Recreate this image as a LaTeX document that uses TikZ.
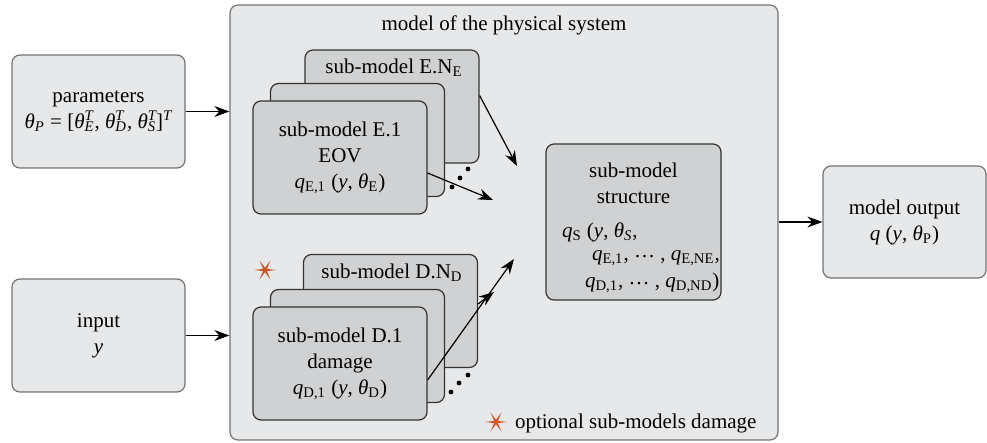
\documentclass[tikz,border=0pt]{standalone}
\usepackage{fontspec}
\setmainfont{Liberation Serif}
\usetikzlibrary{arrows.meta,shapes.geometric}
\definecolor{boxgray}{RGB}{231,232,233}
\definecolor{subgray}{RGB}{208,209,210}
\definecolor{edgegray}{RGB}{115,115,115}
\definecolor{staror}{RGB}{206,86,36}
\newcommand{\thsub}[1]{\textit{θ}\textsubscript{#1}}
\newcommand{\thsubsup}[2]{\textit{θ}\rlap{\textsuperscript{\itshape #2}}\textsubscript{\itshape #1}}
\begin{document}
\begin{tikzpicture}[x=0.5pt,y=-0.5pt,
    font=\fontsize{10.5}{13}\selectfont,
    outer/.style={draw=edgegray,fill=boxgray,rounded corners=4pt,line width=0.6pt,inner sep=0pt},
    submodel/.style={draw=black!80,fill=subgray,rounded corners=4pt,line width=0.6pt,
        minimum width=87pt,minimum height=56.5pt,inner sep=0pt},
    flow/.style={-{Stealth[length=7.5pt,width=5.5pt]},line width=0.6pt},
    dot/.style={circle,fill=black,inner sep=0pt,minimum size=2.4pt},
    optmark/.style={star,star points=6,star point ratio=5,fill=staror,inner sep=0pt,
        minimum size=11pt,rotate=90}]
    \useasboundingbox (0,0) rectangle (987,443);
    % outer boxes
    \node[outer,minimum width=86.5pt,minimum height=56.5pt,align=center] (params) at (98.5,111.5)
        {parameters\\ \thsub{\itshape P} = [\thsubsup{E}{T}, \thsubsup{D}{T}, \thsubsup{S}{T}]\textsuperscript{\itshape T}};
    \node[outer,minimum width=86.5pt,minimum height=56.5pt,align=center] (input) at (98.5,335.5)
        {input\\ \textit{y}};
    \node[outer,minimum width=274pt,minimum height=217.5pt] (model) at (504,222.5) {};
    \node (title) at (504,25) {model of the physical system};
    \node[outer,minimum width=81.5pt,minimum height=56pt,align=center] (output) at (904.5,222)
        {model output\\ \textit{q} (\textit{y}, \thsub{P})};

    % environmental sub-models
    \node[submodel] (eN) at (392,106.5) {};
    \node[submodel] (eMid) at (357.5,140) {};
    \node[submodel,align=center] (eOne) at (340,157.5)
        {sub-model E.1\\ EOV\\ \textit{q}\textsubscript{E,1} (\textit{y}, \thsub{E})};
    \node (eNtxt) at (394,68) {sub-model E.N\textsubscript{E}};
    \foreach \dx/\dy [count=\i] in {468/169,460/178,452/187}
        \node[dot] (edot\i) at (\dx,\dy) {};

    % damage sub-models
    \node[submodel] (dN) at (390.5,311) {};
    \node[submodel] (dMid) at (357.5,346) {};
    \node[submodel,align=center] (dOne) at (340,363.5)
        {sub-model D.1\\ damage\\ \textit{q}\textsubscript{D,1} (\textit{y}, \thsub{D})};
    \node (dNtxt) at (392,273) {sub-model D.N\textsubscript{D}};
    \foreach \dx/\dy [count=\i] in {468/375,459/383,451/392}
        \node[dot] (ddot\i) at (\dx,\dy) {};
    \node[optmark] (dmark) at (265,270) {};

    % structure
    \node[submodel,minimum width=87.5pt,minimum height=78pt] (struct) at (633.5,222) {};
    \node[align=center] (structhead) at (633.5,183.5) {sub-model\\ structure};
    \node[anchor=west] (structa) at (555,232) {\textit{q}\textsubscript{S} (\textit{y}, \thsub{\itshape S},};
    \node[anchor=west] (structb) at (585,258)
        {\textit{q}\textsubscript{E,1}, \raisebox{0.3ex}{…} , \textit{q}\textsubscript{E,NE},};
    \node[anchor=west] (structc) at (578,283)
        {\textit{q}\textsubscript{D,1}, \raisebox{0.3ex}{…} , \textit{q}\textsubscript{D,ND})};

    % legend
    \node[optmark] (legmark) at (496,422) {};
    \node[anchor=west] (legtxt) at (508,423) {optional sub-models damage};

    % connectors
    \coordinate (eNend) at (517,166);
    \coordinate (eOneend) at (493,200);
    \coordinate (dOneend) at (514,259);
    \coordinate (dNend) at (494,292);
    \draw[flow] (params.east) -- (params.east -| model.west);
    \draw[flow] (input.east) -- (input.east -| model.west);
    \draw[flow] (model.east |- output.west) -- (output.west);
    \draw[flow] ([yshift=5.5pt]eN.east) -- (eNend);
    \draw[flow] ([yshift=-7.75pt]eOne.east) -- (eOneend);
    \draw[flow] ([yshift=-8.25pt]dOne.east) -- (dOneend);
    \draw[flow] ([yshift=3.5pt]dN.east) -- (dNend);
\end{tikzpicture}
\end{document}
